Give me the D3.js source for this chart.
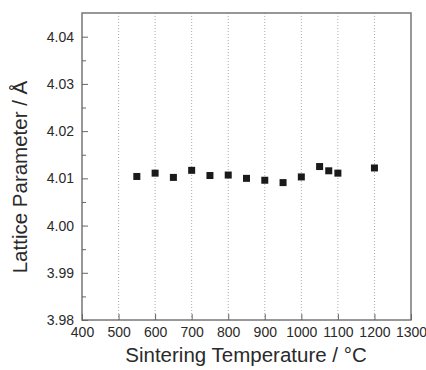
<!DOCTYPE html>
<html>
<head>
<meta charset="utf-8">
<script src="https://cdn.jsdelivr.net/npm/d3@7"></script>
<style>
  body { margin: 0; background: #fff; }
  text { font-family: "Liberation Sans", Arial, sans-serif; fill: #2a2a2a; }
</style>
</head>
<body>
<svg id="chart" width="426" height="370"></svg>
<script>
// sintering temperature (°C) vs lattice parameter (Å)
var temps = [550, 600, 650, 700, 750, 800, 850, 900, 950, 1000, 1050, 1075, 1100, 1200];
var lattice = [4.0104, 4.0111, 4.0102, 4.0117, 4.0106, 4.0107, 4.0100, 4.0096, 4.0091, 4.0103, 4.0125, 4.0116, 4.0111, 4.0122];
var xTicks = [400, 500, 600, 700, 800, 900, 1000, 1100, 1200, 1300];
var yTicks = [3.98, 3.99, 4.00, 4.01, 4.02, 4.03, 4.04];
var yMinor = [3.985, 3.995, 4.005, 4.015, 4.025, 4.035];
var gridX = [500, 600, 700, 800, 900, 1000, 1100, 1200];

var svg = d3.select("#chart");
var pLeft = 82, pTop = 13, pRight = 411, pBottom = 320;

var x = d3.scaleLinear().domain([400, 1300]).range([pLeft, pRight]);
var y = d3.scaleLinear().domain([3.98, 4.04]).range([pBottom, 36.7]);

// dotted vertical grid
svg.selectAll(".grid")
  .data(gridX)
  .enter().append("line")
  .attr("x1", d => x(d)).attr("x2", d => x(d))
  .attr("y1", pTop).attr("y2", pBottom)
  .attr("stroke", "#aaa")
  .attr("stroke-width", 1)
  .attr("stroke-dasharray", "1,2");

// frame
svg.append("rect")
  .attr("x", pLeft).attr("y", pTop)
  .attr("width", pRight - pLeft).attr("height", pBottom - pTop)
  .attr("fill", "none")
  .attr("stroke", "#777")
  .attr("stroke-width", 1.5);

// axes with inward ticks
var xAxis = d3.axisBottom(x).tickValues(xTicks).tickSize(-6).tickPadding(7).tickFormat(d3.format("d"));
var gx = svg.append("g").attr("transform", "translate(0," + pBottom + ")").call(xAxis);
gx.select(".domain").remove();
gx.selectAll("line").attr("stroke", "#666");
gx.selectAll("text").attr("font-size", 14).style("fill", "#2a2a2a");

var yAxis = d3.axisLeft(y).tickValues(yTicks).tickSize(-6).tickPadding(8).tickFormat(d3.format(".2f"));
var gy = svg.append("g").attr("transform", "translate(" + pLeft + ",0)").call(yAxis);
gy.select(".domain").remove();
gy.selectAll("line").attr("stroke", "#666");
gy.selectAll("text").attr("font-size", 14).style("fill", "#2a2a2a");

var yMinorAxis = d3.axisLeft(y).tickValues(yMinor).tickSize(-4).tickFormat("");
var gym = svg.append("g").attr("transform", "translate(" + pLeft + ",0)").call(yMinorAxis);
gym.select(".domain").remove();
gym.selectAll("line").attr("stroke", "#666");

// points
var s = 7;
svg.selectAll(".pt")
  .data(temps)
  .enter().append("rect")
  .attr("x", (d, i) => x(d) - s / 2)
  .attr("y", (d, i) => y(lattice[i]) - s / 2)
  .attr("width", s).attr("height", s)
  .attr("fill", "#1a1a1a");

// axis titles
svg.append("text")
  .attr("x", 246).attr("y", 362)
  .attr("text-anchor", "middle")
  .attr("font-size", 20.5)
  .text("Sintering Temperature / °C");

svg.append("text")
  .attr("transform", "translate(27,177) rotate(-90)")
  .attr("text-anchor", "middle")
  .attr("font-size", 20.5)
  .text("Lattice Parameter / Å");
</script>
</body>
</html>
